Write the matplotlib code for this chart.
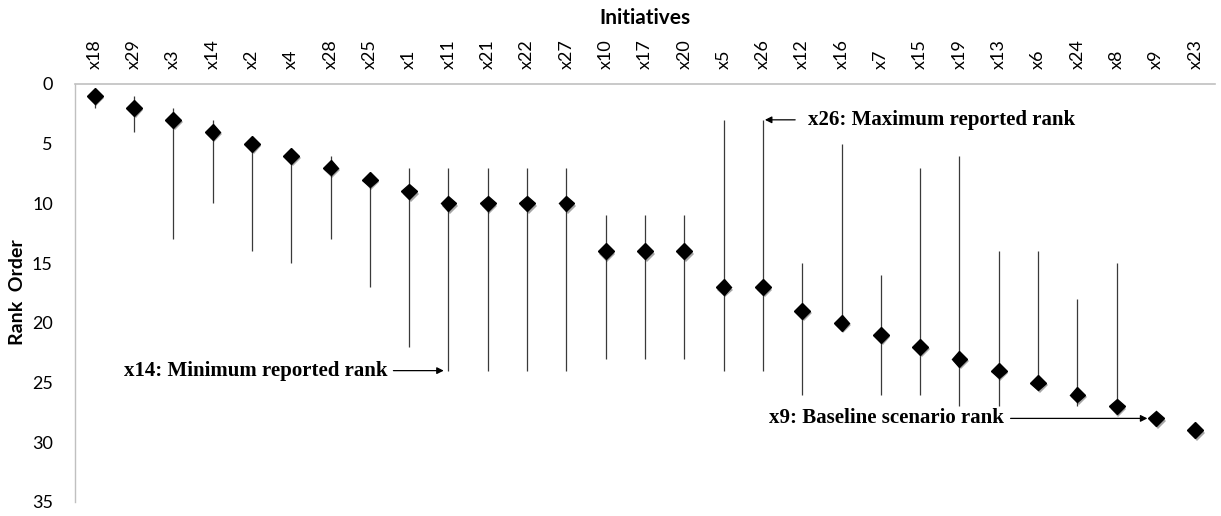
import matplotlib
matplotlib.use("Agg")
import matplotlib.pyplot as plt
import matplotlib.patheffects as pe

categories = ["x18", "x29", "x3", "x14", "x2", "x4", "x28", "x25", "x1", "x11",
              "x21", "x22", "x27", "x10", "x17", "x20", "x5", "x26", "x12", "x16",
              "x7", "x15", "x19", "x13", "x6", "x24", "x8", "x9", "x23"]
baseline_rank = [1, 2, 3, 4, 5, 6, 7, 8, 9, 10, 10, 10, 10, 14, 14, 14, 17, 17, 19, 20,
                 21, 22, 23, 24, 25, 26, 27, 28, 29]
min_rank = [1, 1, 2, 3, 5, 6, 6, 8, 7, 7, 7, 7, 7, 11, 11, 11, 3, 3, 15, 5,
            16, 7, 6, 14, 14, 18, 15, 28, 29]
max_rank = [2, 4, 13, 10, 14, 15, 13, 17, 22, 24, 24, 24, 24, 23, 23, 23, 24, 24, 26, 20,
            26, 26, 27, 27, 25, 27, 27, 28, 29]
y_ticks = [0, 5, 10, 15, 20, 25, 30, 35]

plt.rcParams['font.family'] = ['Lato', 'DejaVu Sans']

fig = plt.figure(figsize=(12.21, 5.16), dpi=100)
ax = fig.add_axes([75 / 1221, 1 - 502 / 516, (1215 - 75) / 1221, (502 - 84) / 516])

xs = list(range(len(categories)))
ax.vlines(xs, min_rank, max_rank, colors='#3a3a3a', linewidth=0.9, zorder=2)
ax.plot(xs, baseline_rank, linestyle='none', marker='D', markersize=8,
        color='black', zorder=3,
        path_effects=[pe.SimplePatchShadow(offset=(1.2, -1.8), shadow_rgbFace='black', alpha=0.35),
                      pe.Normal()])

ax.set_xlim(-0.5, len(categories) - 0.5)
ax.set_ylim(35, 0)
ax.set_yticks(y_ticks)
ax.set_xticks(xs)
ax.set_xticklabels(categories, rotation=90, fontsize=13)
ax.xaxis.tick_top()
ax.xaxis.set_label_position('top')
ax.tick_params(axis='x', length=0, pad=11)
ax.tick_params(axis='y', length=0, pad=16, labelsize=13)
for lab in ax.get_yticklabels():
    lab.set_horizontalalignment('right')

for s in ['right', 'bottom']:
    ax.spines[s].set_visible(False)
ax.spines['top'].set_color('#c0c0c0')
ax.spines['left'].set_color('#c0c0c0')
ax.spines['top'].set_linewidth(1.2)
ax.spines['left'].set_linewidth(1.0)

fig.text(645 / 1221, 1 - 18 / 516, 'Initiatives', ha='center', va='center',
         fontsize=15, fontweight='bold')
fig.text(18 / 1221, 1 - 292 / 516, 'Rank  Order', ha='center', va='center',
         rotation=90, fontsize=14, fontweight='bold')

serif = dict(family='Liberation Serif', fontweight='bold', fontsize=15)
arrow = dict(arrowstyle='-|>', color='black', lw=0.9, mutation_scale=10,
             shrinkA=0, shrinkB=0)

i26 = categories.index('x26')
ax.annotate('', xy=(i26 + 0.05, min_rank[i26]), xytext=(i26 + 0.82, min_rank[i26]),
            arrowprops=arrow)
ax.text(i26 + 1.15, min_rank[i26], 'x26: Maximum reported rank', ha='left',
        va='center', **serif)

i11 = categories.index('x11')
ax.annotate('', xy=(i11 - 0.12, max_rank[i11]), xytext=(i11 - 1.4, max_rank[i11]),
            arrowprops=arrow)
ax.text(i11 - 1.55, max_rank[i11], 'x14: Minimum reported rank', ha='right',
        va='center', **serif)

i9 = categories.index('x9')
ax.annotate('', xy=(i9 - 0.22, baseline_rank[i9]), xytext=(i9 - 3.7, baseline_rank[i9]),
            arrowprops=arrow)
ax.text(i9 - 3.88, baseline_rank[i9], 'x9: Baseline scenario rank', ha='right',
        va='center', **serif)

fig.savefig('out.png', dpi=100)
